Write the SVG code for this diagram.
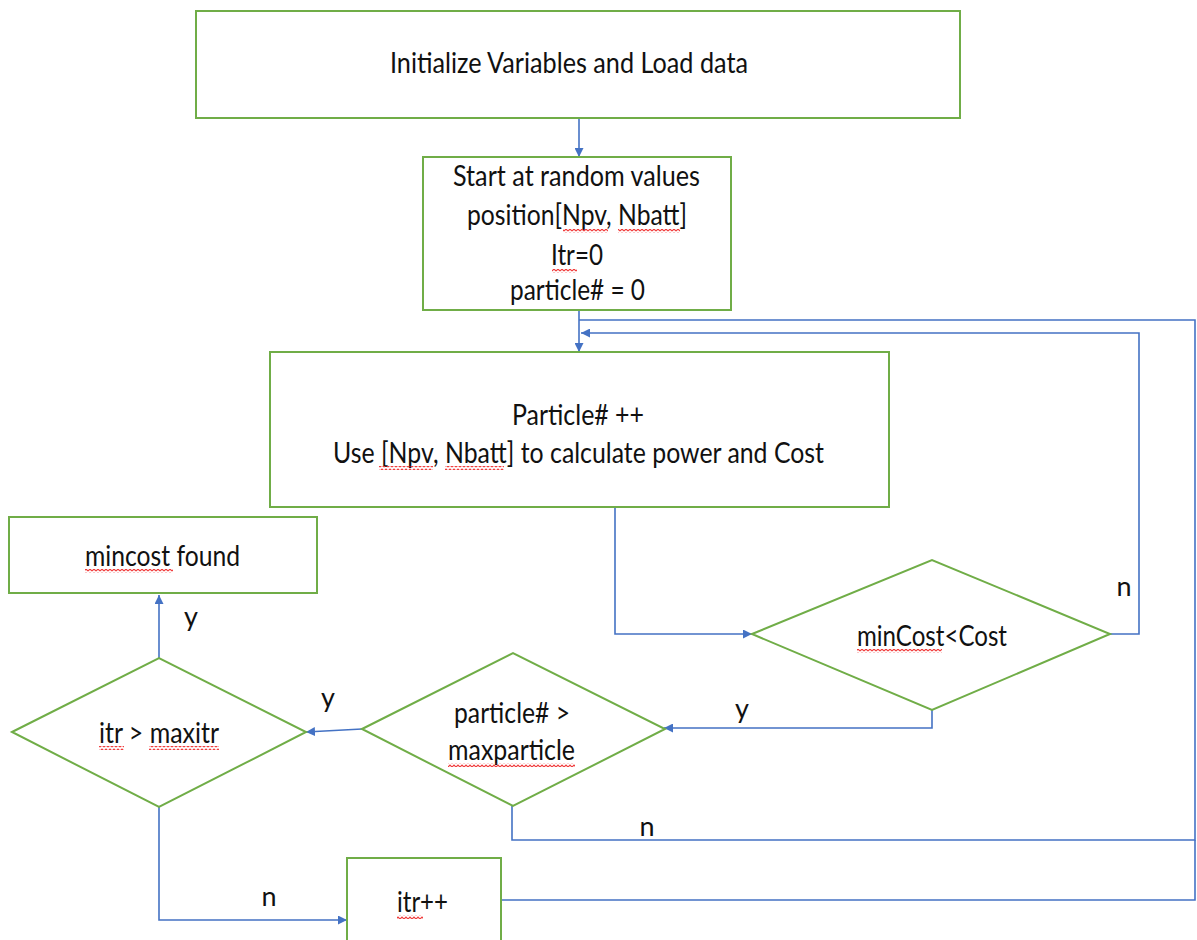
<svg xmlns="http://www.w3.org/2000/svg" width="1197" height="940" viewBox="0 0 1197 940">
<style>
.box{fill:#fff;stroke:#70AD47;stroke-width:2}
.dec{fill:#fff;stroke:#70AD47;stroke-width:2}
.con{fill:none;stroke:#4472C4;stroke-width:1.6}
.arr{marker-end:url(#ah)}
.t{font-family:Lato,"Liberation Sans",sans-serif;font-size:29px;fill:#111;text-anchor:middle}
.lbl{font-family:Lato,"Liberation Sans",sans-serif;font-size:27px;fill:#111;text-anchor:middle}
.sq{fill:url(#wave)}
</style>
<defs>
<marker id="ah" viewBox="0 0 10 10" refX="10" refY="5" markerWidth="9" markerHeight="9" markerUnits="userSpaceOnUse" orient="auto">
<path d="M0,0 L10,5 L0,10 z" fill="#4472C4"/>
</marker>
<pattern id="wave" width="4" height="4" patternUnits="userSpaceOnUse">
<path d="M0,3 L2,1 L4,3" fill="none" stroke="#F03838" stroke-width="1.1"/>
</pattern>
</defs>
<rect width="1197" height="940" fill="#fff"/>
<g id="connectors">
<path class="con arr" d="M579,118 V157"/>
<path class="con arr" d="M579,310 V352"/>
<path class="con" d="M512,806 V840 H1195 V320 H579"/>
<path class="con" d="M501,900 H1195 V840"/>
<path class="con arr" d="M1110,634 H1139 V333 H581"/>
<path class="con arr" d="M615,507 V634 H752"/>
<path class="con arr" d="M932,710 V728 H664"/>
<path class="con arr" d="M362,729 L306,732"/>
<path class="con arr" d="M159,658 V595"/>
<path class="con arr" d="M159,807 V920 H347"/>
<text class="lbl" x="1124" y="596">n</text>
<text class="lbl" x="742" y="718">y</text>
<text class="lbl" x="647" y="836">n</text>
<text class="lbl" x="328" y="707">y</text>
<text class="lbl" x="191" y="626">y</text>
<text class="lbl" x="269" y="906">n</text>
</g>
<g id="init">
<rect class="box" x="196" y="11" width="764" height="107"/>
<text class="t" x="569" y="73" textLength="358" lengthAdjust="spacingAndGlyphs">Initialize Variables and Load data</text>
</g>
<g id="start">
<rect class="box" x="423" y="157" width="308" height="153"/>
<text class="t" x="576.5" y="186" textLength="247" lengthAdjust="spacingAndGlyphs">Start at random values</text>
<text class="t" x="577" y="225" textLength="220" lengthAdjust="spacingAndGlyphs">position[Npv, Nbatt]</text>
<text class="t" x="577" y="265" textLength="52" lengthAdjust="spacingAndGlyphs">Itr=0</text>
<text class="t" x="577.5" y="300" textLength="135" lengthAdjust="spacingAndGlyphs">particle# = 0</text>
<rect class="sq" x="563" y="229" width="45" height="4"/>
<rect class="sq" x="618" y="229" width="62" height="4"/>
<rect class="sq" x="552" y="269" width="25" height="4"/>
</g>
<g id="calc">
<rect class="box" x="270" y="352" width="619" height="155"/>
<text class="t" x="578" y="425" textLength="132" lengthAdjust="spacingAndGlyphs">Particle# ++</text>
<text class="t" x="578.5" y="463" textLength="491" lengthAdjust="spacingAndGlyphs">Use [Npv, Nbatt] to calculate power and Cost</text>
<rect class="sq" x="379" y="466" width="54" height="4"/>
<rect class="sq" x="445" y="466" width="59" height="4"/>
</g>
<g id="mincost">
<path class="dec" d="M752,634 L932,560 L1110,634 L932,710 Z"/>
<text class="t" x="932" y="646" textLength="150" lengthAdjust="spacingAndGlyphs">minCost&lt;Cost</text>
<rect class="sq" x="857" y="649" width="85" height="4"/>
</g>
<g id="particle">
<path class="dec" d="M362,729 L513,653 L665,729 L513,806 Z"/>
<text class="t" x="512" y="723" textLength="116" lengthAdjust="spacingAndGlyphs">particle# &gt;</text>
<text class="t" x="511.5" y="760" textLength="127" lengthAdjust="spacingAndGlyphs">maxparticle</text>
<rect class="sq" x="448" y="763" width="127" height="4"/>
</g>
<g id="itrcheck">
<path class="dec" d="M12,732 L159,658 L306,732 L159,807 Z"/>
<text class="t" x="159" y="743" textLength="120" lengthAdjust="spacingAndGlyphs">itr &gt; maxitr</text>
<rect class="sq" x="99" y="746" width="25" height="4"/>
<rect class="sq" x="149" y="746" width="70" height="4"/>
</g>
<g id="found">
<rect class="box" x="9" y="517" width="308" height="76"/>
<text class="t" x="162.5" y="566" textLength="155" lengthAdjust="spacingAndGlyphs">mincost found</text>
<rect class="sq" x="85" y="569" width="88" height="4"/>
</g>
<g id="itrinc">
<rect class="box" x="347" y="858" width="154" height="100"/>
<text class="t" x="422.5" y="912" textLength="51" lengthAdjust="spacingAndGlyphs">itr++</text>
<rect class="sq" x="397" y="915" width="26" height="4"/>
</g>
</svg>
